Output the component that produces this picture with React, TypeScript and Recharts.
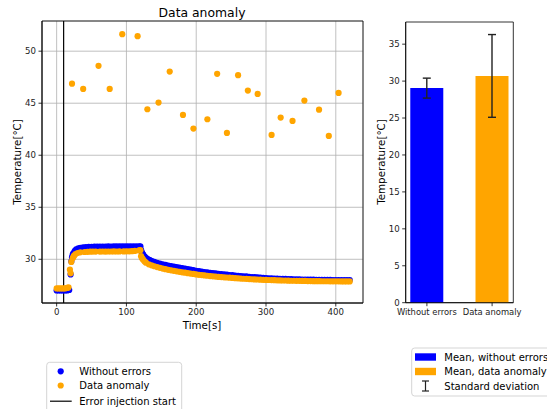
import React from 'react';
import {
  ScatterChart,
  Scatter,
  XAxis,
  YAxis,
  CartesianGrid,
  ReferenceLine,
  ReferenceArea,
  BarChart,
  Bar,
  Cell,
  ErrorBar,
} from 'recharts';

// ---------- data ----------
const withoutErrors: [number, number][] = [
  [0, 27.0], [3, 27.0], [6, 27.0], [9, 27.0], [12, 27.0], [15, 27.0], [18, 27.05],
  [20, 28.55], [21, 29.8], [22, 30.2], [23, 30.45], [24, 30.6], [26, 30.8], [28, 30.95],
  [31, 31.05], [34, 31.1], [38, 31.15], [42, 31.18], [46, 31.2], [50, 31.2], [54, 31.22],
  [58, 31.22], [62, 31.23], [66, 31.22], [70, 31.23], [74, 31.24], [78, 31.23], [82, 31.24],
  [86, 31.24], [90, 31.25], [94, 31.24], [98, 31.25], [102, 31.24], [106, 31.25], [110, 31.25],
  [114, 31.24], [118, 31.25], [120, 31.25], [121, 30.9], [122, 30.7], [123, 30.55], [124, 30.45],
  [126, 30.28], [128, 30.15], [130, 30.05], [133, 29.95], [136, 29.85], [140, 29.75], [144, 29.66],
  [148, 29.59], [152, 29.52], [156, 29.46], [160, 29.4], [164, 29.35], [168, 29.3], [172, 29.25],
  [176, 29.2], [180, 29.15], [184, 29.1], [188, 29.05], [192, 29.0], [196, 28.95], [200, 28.9],
  [204, 28.86], [208, 28.82], [212, 28.78], [216, 28.74], [220, 28.7], [224, 28.67], [228, 28.64],
  [232, 28.61], [236, 28.58], [240, 28.55], [244, 28.52], [248, 28.49], [252, 28.47], [256, 28.44],
  [260, 28.42], [264, 28.39], [268, 28.37], [272, 28.35], [276, 28.32], [280, 28.3], [284, 28.28],
  [288, 28.26], [292, 28.24], [296, 28.22], [300, 28.2], [304, 28.18], [308, 28.17], [312, 28.15],
  [316, 28.14], [320, 28.13], [324, 28.12], [328, 28.11], [332, 28.1], [336, 28.09], [340, 28.08],
  [344, 28.07], [348, 28.07], [352, 28.06], [356, 28.05], [360, 28.05], [364, 28.04], [368, 28.04],
  [372, 28.03], [376, 28.03], [380, 28.03], [384, 28.02], [388, 28.02], [392, 28.02], [396, 28.01],
  [400, 28.01], [404, 28.01], [408, 28.0], [412, 28.0], [416, 28.0], [420, 28.0],
];

const anomalyCurve: [number, number][] = [
  [0, 27.2], [3, 27.2], [6, 27.2], [9, 27.2], [12, 27.2], [15, 27.25], [17, 27.3],
  [19, 29.0], [20, 28.65], [21, 29.75], [23, 30.1], [24, 30.25], [25, 30.35], [27, 30.5],
  [30, 30.6], [34, 30.67], [40, 30.7], [44, 30.72], [48, 30.73], [52, 30.74], [56, 30.74],
  [62, 30.74], [66, 30.75], [70, 30.74], [74, 30.75], [78, 30.75], [82, 30.76], [86, 30.75],
  [90, 30.76], [96, 30.76], [100, 30.77], [104, 30.77], [108, 30.78], [112, 30.8], [118, 30.85],
  [120, 30.88], [121, 30.3], [122, 30.15], [123, 30.05], [124, 29.95], [126, 29.8], [128, 29.68],
  [132, 29.52], [136, 29.42], [140, 29.33], [144, 29.25], [148, 29.18], [152, 29.11], [156, 29.05],
  [160, 28.99], [164, 28.94], [168, 28.89], [172, 28.84], [176, 28.8], [180, 28.75], [184, 28.71],
  [188, 28.67], [192, 28.63], [196, 28.59], [200, 28.55], [204, 28.51], [208, 28.48], [212, 28.45],
  [216, 28.42], [220, 28.39], [224, 28.36], [228, 28.34], [232, 28.31], [236, 28.29], [240, 28.27],
  [244, 28.25], [248, 28.23], [252, 28.21], [256, 28.19], [260, 28.17], [264, 28.15], [268, 28.13],
  [272, 28.12], [276, 28.1], [280, 28.08], [284, 28.07], [288, 28.06], [292, 28.04], [296, 28.03],
  [300, 28.02], [304, 28.01], [308, 28.0], [312, 27.99], [316, 27.98], [320, 27.97], [324, 27.96],
  [328, 27.96], [332, 27.95], [336, 27.94], [340, 27.94], [344, 27.93], [348, 27.93], [352, 27.92],
  [356, 27.92], [360, 27.91], [364, 27.91], [368, 27.9], [372, 27.9], [376, 27.9], [380, 27.89],
  [384, 27.89], [388, 27.89], [392, 27.88], [396, 27.88], [400, 27.88], [404, 27.88], [408, 27.87],
  [412, 27.87], [416, 27.87], [420, 27.87],
];

const anomalySpikes: [number, number][] = [
  [22, 46.88], [38, 46.37], [60, 48.59], [76, 46.37], [94, 51.63], [116, 51.44],
  [130, 44.42], [146, 45.06], [162, 48.04], [181, 43.87], [196, 42.56], [216, 43.46],
  [230, 47.82], [244, 42.14], [260, 47.69], [274, 46.21], [288, 45.89], [308, 41.95],
  [321, 43.62], [338, 43.3], [355, 45.25], [376, 44.38], [390, 41.86], [404, 45.99],
];

const errorInjectionTime = 10;
const timeTicks = [0, 100, 200, 300, 400];
const tempTicks = [30, 35, 40, 45, 50];

const barCategories = ['Without errors', 'Data anomaly'];
const barMeans = [29.05, 30.7];
const barStd = [1.35, 5.6];
const barColors = ['#0000ff', '#ffa500'];
const barTempTicks = [0, 5, 10, 15, 20, 25, 30, 35];

// ---------- derived tables ----------
const blueData = withoutErrors.map(([t, v]) => ({ t, v }));
const orangeData = [...anomalyCurve, ...anomalySpikes].map(([t, v]) => ({ t, v }));
const barData = barCategories.map((name, i) => ({ x: i, name, mean: barMeans[i], sd: barStd[i] }));

const FONT = 'DejaVu Sans';
const tickStyle = { fill: '#222', fontSize: 8.6, fontFamily: FONT };

const makeDot = (color: string) => (props: any) =>
  props.cx == null ? null : <circle cx={props.cx} cy={props.cy} r={3.1} fill={color} />;

export default function App() {
  return (
    <div
      style={{
        position: 'absolute',
        left: 0,
        top: 0,
        width: 547,
        height: 409,
        background: '#fff',
        overflow: 'hidden',
        fontFamily: FONT,
      }}
    >
      <div style={{ position: 'absolute', left: 0, top: 0 }}>
        <ScatterChart width={380} height={340} margin={{ top: 21, right: 17, left: 0, bottom: 0 }}>
          <CartesianGrid stroke="#b0b0b0" strokeWidth={0.8} />
          <XAxis
            type="number"
            dataKey="t"
            domain={[-21, 439]}
            ticks={timeTicks}
            allowDataOverflow
            height={37}
            tickSize={3.5}
            tickMargin={2.5}
            tick={tickStyle}
            axisLine={{ stroke: '#000', strokeWidth: 0.8 }}
            tickLine={{ stroke: '#000', strokeWidth: 0.8 }}
          />
          <YAxis
            type="number"
            dataKey="v"
            domain={[25.8, 52.9]}
            ticks={tempTicks}
            allowDataOverflow
            width={42}
            tickSize={3.5}
            tickMargin={2.5}
            tick={tickStyle}
            axisLine={{ stroke: '#000', strokeWidth: 0.8 }}
            tickLine={{ stroke: '#000', strokeWidth: 0.8 }}
          />
          <ReferenceArea
            x1={-21}
            x2={439}
            y1={25.8}
            y2={52.9}
            fill="none"
            fillOpacity={0}
            stroke="#000"
            strokeWidth={0.8}
            ifOverflow="visible"
          />
          <Scatter data={blueData} fill="#0000ff" shape={makeDot('#0000ff')} isAnimationActive={false} />
          <Scatter data={orangeData} fill="#ffa500" shape={makeDot('#ffa500')} isAnimationActive={false} />
          <ReferenceLine x={errorInjectionTime} stroke="#000" strokeWidth={1.2} ifOverflow="visible" />
        </ScatterChart>
      </div>

      <div style={{ position: 'absolute', left: 370, top: 0 }}>
        <BarChart width={160} height={340} data={barData} margin={{ top: 22, right: 16.7, left: 0, bottom: 0 }}>
          <XAxis
            type="number"
            dataKey="x"
            domain={[-0.325, 1.325]}
            ticks={[0, 1]}
            tickFormatter={(v: number) => barCategories[v] ?? ''}
            allowDataOverflow
            height={37.3}
            tickSize={3.5}
            tickMargin={2.5}
            tick={{ ...tickStyle, fontSize: 8.4 }}
            interval={0}
            axisLine={{ stroke: '#000', strokeWidth: 0.8 }}
            tickLine={{ stroke: '#000', strokeWidth: 0.8 }}
          />
          <YAxis
            type="number"
            domain={[0, 38]}
            ticks={barTempTicks}
            allowDataOverflow
            width={35.7}
            tickSize={3.5}
            tickMargin={2.5}
            tick={tickStyle}
            axisLine={{ stroke: '#000', strokeWidth: 0.8 }}
            tickLine={{ stroke: '#000', strokeWidth: 0.8 }}
          />
          <ReferenceArea
            x1={-0.325}
            x2={1.325}
            y1={0}
            y2={38}
            fill="none"
            fillOpacity={0}
            stroke="#000"
            strokeWidth={0.8}
            ifOverflow="visible"
          />
          <Bar dataKey="mean" barSize={33} isAnimationActive={false}>
            {barData.map((d, i) => (
              <Cell key={d.name} fill={barColors[i]} />
            ))}
            <ErrorBar dataKey="sd" width={4} stroke="#222" strokeWidth={1.4} direction="y" />
          </Bar>
        </BarChart>
      </div>

      <svg
        width={547}
        height={409}
        style={{ position: 'absolute', left: 0, top: 0, pointerEvents: 'none' }}
        fontFamily={FONT}
      >
        {/* titles and axis labels */}
        <text x={202} y={12.5} fontSize={12.4} textAnchor="middle" dominantBaseline="central" fill="#000">
          Data anomaly
        </text>
        <text x={202} y={324.5} fontSize={10.3} textAnchor="middle" dominantBaseline="central" fill="#000">
          Time[s]
        </text>
        <text
          x={16.5}
          y={162}
          fontSize={10.3}
          textAnchor="middle"
          dominantBaseline="central"
          fill="#000"
          transform="rotate(-90 16.5 162)"
        >
          Temperature[°C]
        </text>
        <text
          x={381}
          y={162}
          fontSize={10.3}
          textAnchor="middle"
          dominantBaseline="central"
          fill="#000"
          transform="rotate(-90 381 162)"
        >
          Temperature[°C]
        </text>

        {/* left legend */}
        <rect x={46.7} y={362.3} width={135} height={60} rx={3} fill="#fff" fillOpacity={0.8} stroke="#d0d0d0" strokeWidth={0.9} />
        <circle cx={60.7} cy={371.3} r={3.1} fill="#0000ff" />
        <text x={79.3} y={371.3} fontSize={10} dominantBaseline="central" fill="#000">Without errors</text>
        <circle cx={60.7} cy={385.5} r={3.1} fill="#ffa500" />
        <text x={79.3} y={385.5} fontSize={10} dominantBaseline="central" fill="#000">Data anomaly</text>
        <line x1={50} y1={401.2} x2={71.7} y2={401.2} stroke="#000" strokeWidth={1.2} />
        <text x={79.3} y={401.5} fontSize={10} dominantBaseline="central" fill="#000">Error injection start</text>

        {/* right legend */}
        <rect x={411.7} y={348} width={150} height={48} rx={3} fill="#fff" fillOpacity={0.8} stroke="#d0d0d0" strokeWidth={0.9} />
        <rect x={415} y={353.3} width={21} height={7.4} fill="#0000ff" />
        <text x={444.3} y={357} fontSize={10} dominantBaseline="central" fill="#000">Mean, without errors</text>
        <rect x={415} y={367.8} width={21} height={7.4} fill="#ffa500" />
        <text x={444.3} y={371.5} fontSize={10} dominantBaseline="central" fill="#000">Mean, data anomaly</text>
        <line x1={425.5} y1={381} x2={425.5} y2={391} stroke="#222" strokeWidth={1.2} />
        <line x1={422} y1={381} x2={429} y2={381} stroke="#222" strokeWidth={1.2} />
        <line x1={422} y1={391} x2={429} y2={391} stroke="#222" strokeWidth={1.2} />
        <text x={444.3} y={386} fontSize={10} dominantBaseline="central" fill="#000">Standard deviation</text>
      </svg>
    </div>
  );
}
